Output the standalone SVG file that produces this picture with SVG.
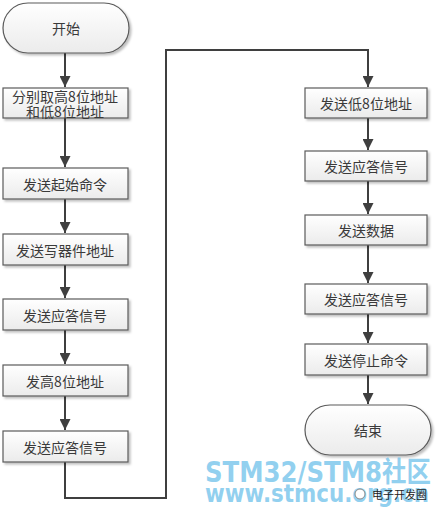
<svg xmlns="http://www.w3.org/2000/svg" width="437" height="516" viewBox="0 0 437 516">
<defs>
<linearGradient id="g" x1="0" y1="0" x2="0" y2="1">
<stop offset="0" stop-color="#ffffff"/>
<stop offset="1" stop-color="#ebebeb"/>
</linearGradient>
<filter id="sh" x="-10%" y="-20%" width="130%" height="160%">
<feDropShadow dx="2" dy="2" stdDeviation="1.2" flood-color="#000" flood-opacity="0.25"/>
</filter>
<marker id="ah" viewBox="0 0 10 10" refX="10" refY="5" markerWidth="5.5" markerHeight="5.5" markerUnits="strokeWidth" orient="auto">
<path d="M0,0 L10,5 L0,10 z" fill="#3f3f3f"/>
</marker>
<style>
.box{fill:url(#g);stroke:#5a5a5a;stroke-width:1.2;filter:url(#sh)}
.t{font-family:"Noto Sans CJK SC","Liberation Sans",sans-serif;font-size:14px;fill:#3a3a3a;text-anchor:middle;dominant-baseline:central}
.c{fill:none;stroke:#3f3f3f;stroke-width:2}
.wm{font-family:"DejaVu Sans","Noto Sans CJK SC",sans-serif;font-weight:bold;fill:#6ec1ea;fill-opacity:0.75}
</style>
</defs>
<rect width="437" height="516" fill="#ffffff"/>
<g id="connectors">
<line class="c" x1="65" y1="53" x2="65" y2="87" marker-end="url(#ah)"/>
<line class="c" x1="65" y1="118" x2="65" y2="167" marker-end="url(#ah)"/>
<line class="c" x1="65" y1="199" x2="65" y2="233" marker-end="url(#ah)"/>
<line class="c" x1="65" y1="265" x2="65" y2="298" marker-end="url(#ah)"/>
<line class="c" x1="65" y1="330" x2="65" y2="364" marker-end="url(#ah)"/>
<line class="c" x1="65" y1="396" x2="65" y2="430" marker-end="url(#ah)"/>
<polyline class="c" points="65,462 65,498 166,498 166,50 368,50 368,87" marker-end="url(#ah)"/>
<line class="c" x1="368" y1="118" x2="368" y2="150" marker-end="url(#ah)"/>
<line class="c" x1="368" y1="181" x2="368" y2="214" marker-end="url(#ah)"/>
<line class="c" x1="368" y1="245" x2="368" y2="283" marker-end="url(#ah)"/>
<line class="c" x1="368" y1="314" x2="368" y2="343" marker-end="url(#ah)"/>
<line class="c" x1="368" y1="375" x2="368" y2="404" marker-end="url(#ah)"/>
</g>
<g id="start"><rect class="box" x="3" y="3" width="126" height="50" rx="25" ry="25"/><text class="t" x="66" y="28">开始</text></g>
<g id="n1"><rect class="box" x="3" y="88" width="125" height="30"/><text class="t" x="65" y="95.5" font-size="13.5">分别取高8位地址</text><text class="t" x="65" y="110.5" font-size="13.5">和低8位地址</text></g>
<g id="n2"><rect class="box" x="3" y="168" width="125" height="31"/><text class="t" x="65" y="184">发送起始命令</text></g>
<g id="n3"><rect class="box" x="3" y="234" width="125" height="31"/><text class="t" x="65" y="250">发送写器件地址</text></g>
<g id="n4"><rect class="box" x="3" y="299" width="125" height="31"/><text class="t" x="65" y="315">发送应答信号</text></g>
<g id="n5"><rect class="box" x="3" y="365" width="125" height="31"/><text class="t" x="65" y="381">发高8位地址</text></g>
<g id="n6"><rect class="box" x="3" y="431" width="125" height="31"/><text class="t" x="65" y="447">发送应答信号</text></g>
<g id="r1"><rect class="box" x="305" y="88" width="122" height="30"/><text class="t" x="366" y="103">发送低8位地址</text></g>
<g id="r2"><rect class="box" x="305" y="151" width="122" height="30"/><text class="t" x="366" y="166">发送应答信号</text></g>
<g id="r3"><rect class="box" x="305" y="215" width="122" height="30"/><text class="t" x="366" y="230">发送数据</text></g>
<g id="r4"><rect class="box" x="305" y="284" width="122" height="30"/><text class="t" x="366" y="299">发送应答信号</text></g>
<g id="r5"><rect class="box" x="305" y="344" width="122" height="31"/><text class="t" x="366" y="360">发送停止命令</text></g>
<g id="end"><rect class="box" x="305" y="405" width="126" height="50" rx="25" ry="25"/><text class="t" x="368" y="430">结束</text></g>
<g id="watermark">
<text class="wm" x="205" y="482" font-size="28" textLength="226" lengthAdjust="spacingAndGlyphs">STM32/STM8社区</text>
<text class="wm" x="205" y="502" font-size="25" textLength="224" lengthAdjust="spacingAndGlyphs">www.stmcu.org.cn</text>
<circle cx="360" cy="494" r="5" fill="#ffffff" stroke="#888" stroke-width="1"/>
<text x="372" y="499" font-family="Noto Sans CJK SC,sans-serif" font-size="11" fill="#222">电子开发圈</text>
</g>
</svg>
